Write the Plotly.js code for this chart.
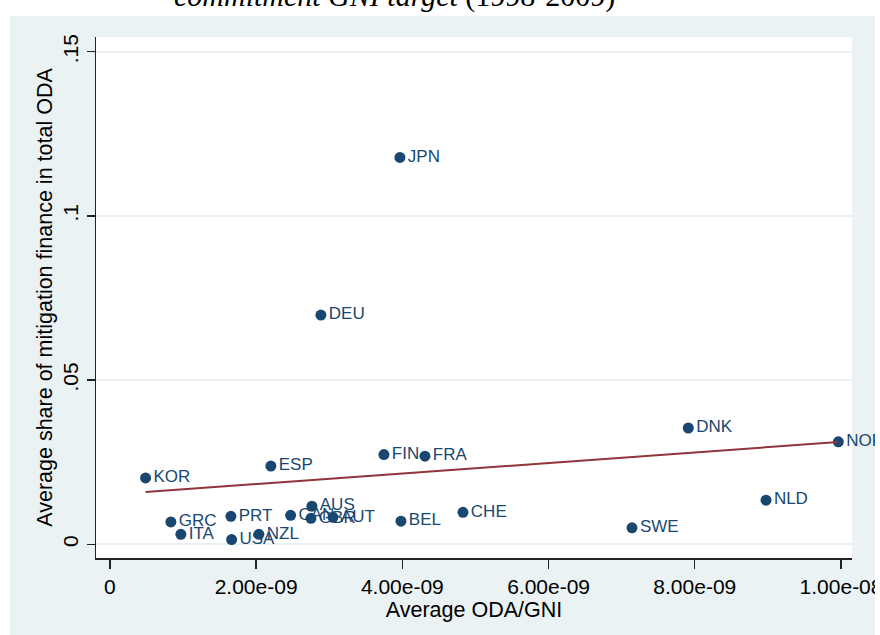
<!DOCTYPE html>
<html>
<head>
<meta charset="utf-8">
<script src="https://cdn.plot.ly/plotly-3.0.1.min.js"></script>
<style>
  html, body { margin: 0; padding: 0; background: #ffffff; }
  #panel { position: absolute; left: 10px; top: 16px; width: 865px; height: 619px; background: #eaf2f3; }
  #chart { position: absolute; left: 0; top: 0; width: 880px; height: 635px; }
  #edge  { position: absolute; left: 875px; top: 0; width: 5px; height: 635px; background: #ffffff; z-index: 10; }
</style>
</head>
<body>
<div id="panel"></div>
<div id="chart"></div>
<div id="edge"></div>
<script>
// Donor countries
const countries = ["JPN", "DEU", "DNK", "NOR", "FIN", "FRA", "ESP", "KOR", "NLD", "CHE", "AUS",
                   "CAN", "GBR", "AUT", "BEL", "PRT", "GRC", "ITA", "USA", "NZL", "SWE"];
// Average ODA/GNI
const odaGni = [3.967e-9, 2.886e-9, 7.911e-9, 9.963e-9, 3.748e-9, 4.309e-9, 2.202e-9, 0.488e-9,
                8.974e-9, 4.829e-9, 2.763e-9, 2.472e-9, 2.750e-9, 3.051e-9, 3.981e-9, 1.655e-9,
                0.834e-9, 0.971e-9, 1.665e-9, 2.038e-9, 7.141e-9];
// Average share of mitigation finance in total ODA
const mitShare = [0.1178, 0.0698, 0.0354, 0.0312, 0.0273, 0.0268, 0.0238, 0.0202,
                  0.0134, 0.0097, 0.0116, 0.0088, 0.0079, 0.0082, 0.0070, 0.0085,
                  0.0068, 0.0030, 0.0014, 0.0030, 0.0050];
// Linear fit, drawn between its end points
const fitX = [0.488e-9, 9.963e-9];
const fitY = [0.0159, 0.0311];
// Axis ticks
const xTickVals = [0, 2e-9, 4e-9, 6e-9, 8e-9, 1e-8];
const xTickText = ["0", "2.00e-09", "4.00e-09", "6.00e-09", "8.00e-09", "1.00e-08"];
const yTickVals = [0, 0.05, 0.1, 0.15];
const yTickText = ["0", ".05", ".1", ".15"];

const navy = "#1a476f";
const maroon = "#90353b";
const sans = "Liberation Sans, Arial, Helvetica, sans-serif";

const traces = [
  {
    type: "scatter",
    mode: "markers+text",
    x: odaGni,
    y: mitShare,
    text: countries,
    textposition: "middle right",
    textfont: { family: sans, size: 17, color: navy },
    marker: { color: navy, size: 11, line: { width: 0 } },
    cliponaxis: false,
    hoverinfo: "skip"
  },
  {
    type: "scatter",
    mode: "lines",
    x: fitX,
    y: fitY,
    line: { color: maroon, width: 2 },
    hoverinfo: "skip"
  }
];

const layout = {
  width: 880,
  height: 635,
  margin: { l: 96, r: 28, t: 37, b: 77 },
  paper_bgcolor: "rgba(0,0,0,0)",
  plot_bgcolor: "#ffffff",
  showlegend: false,
  font: { family: sans, color: "#000000" },
  xaxis: {
    range: [-0.19e-9, 10.15e-9],
    tickmode: "array",
    tickvals: xTickVals,
    ticktext: xTickText,
    ticklabeloverflow: "allow",
    ticks: "outside",
    ticklen: 9,
    tickwidth: 1.3,
    tickcolor: "#222222",
    tickfont: { family: sans, size: 21, color: "#000000" },
    showgrid: false,
    zeroline: false,
    showline: true,
    linecolor: "#222222",
    linewidth: 1.5,
    title: { text: "Average ODA/GNI", font: { family: sans, size: 21.5, color: "#000000" }, standoff: 1 }
  },
  yaxis: {
    range: [-0.0042, 0.1545],
    tickmode: "array",
    tickvals: yTickVals,
    ticktext: yTickText,
    tickangle: -90,
    ticks: "outside",
    ticklen: 8,
    tickwidth: 1.3,
    tickcolor: "#222222",
    tickfont: { family: sans, size: 21, color: "#000000" },
    showgrid: true,
    gridcolor: "#eaf2f3",
    gridwidth: 1.5,
    zeroline: false,
    showline: true,
    linecolor: "#222222",
    linewidth: 1.5,
    title: { text: "Average share of mitigation finance in total ODA", font: { family: sans, size: 21.5, color: "#000000" }, standoff: 0 }
  },
  annotations: [
    {
      xref: "paper", yref: "paper",
      x: 0.3955, y: 1.0787,
      xanchor: "center", yanchor: "middle",
      text: "<i>commitment GNI target</i> (1998-2009)",
      showarrow: false,
      font: { family: "Liberation Serif, Times New Roman, serif", size: 30, color: "#000000" }
    }
  ]
};

Plotly.newPlot("chart", traces, layout, { displayModeBar: false, staticPlot: true });
</script>
</body>
</html>
